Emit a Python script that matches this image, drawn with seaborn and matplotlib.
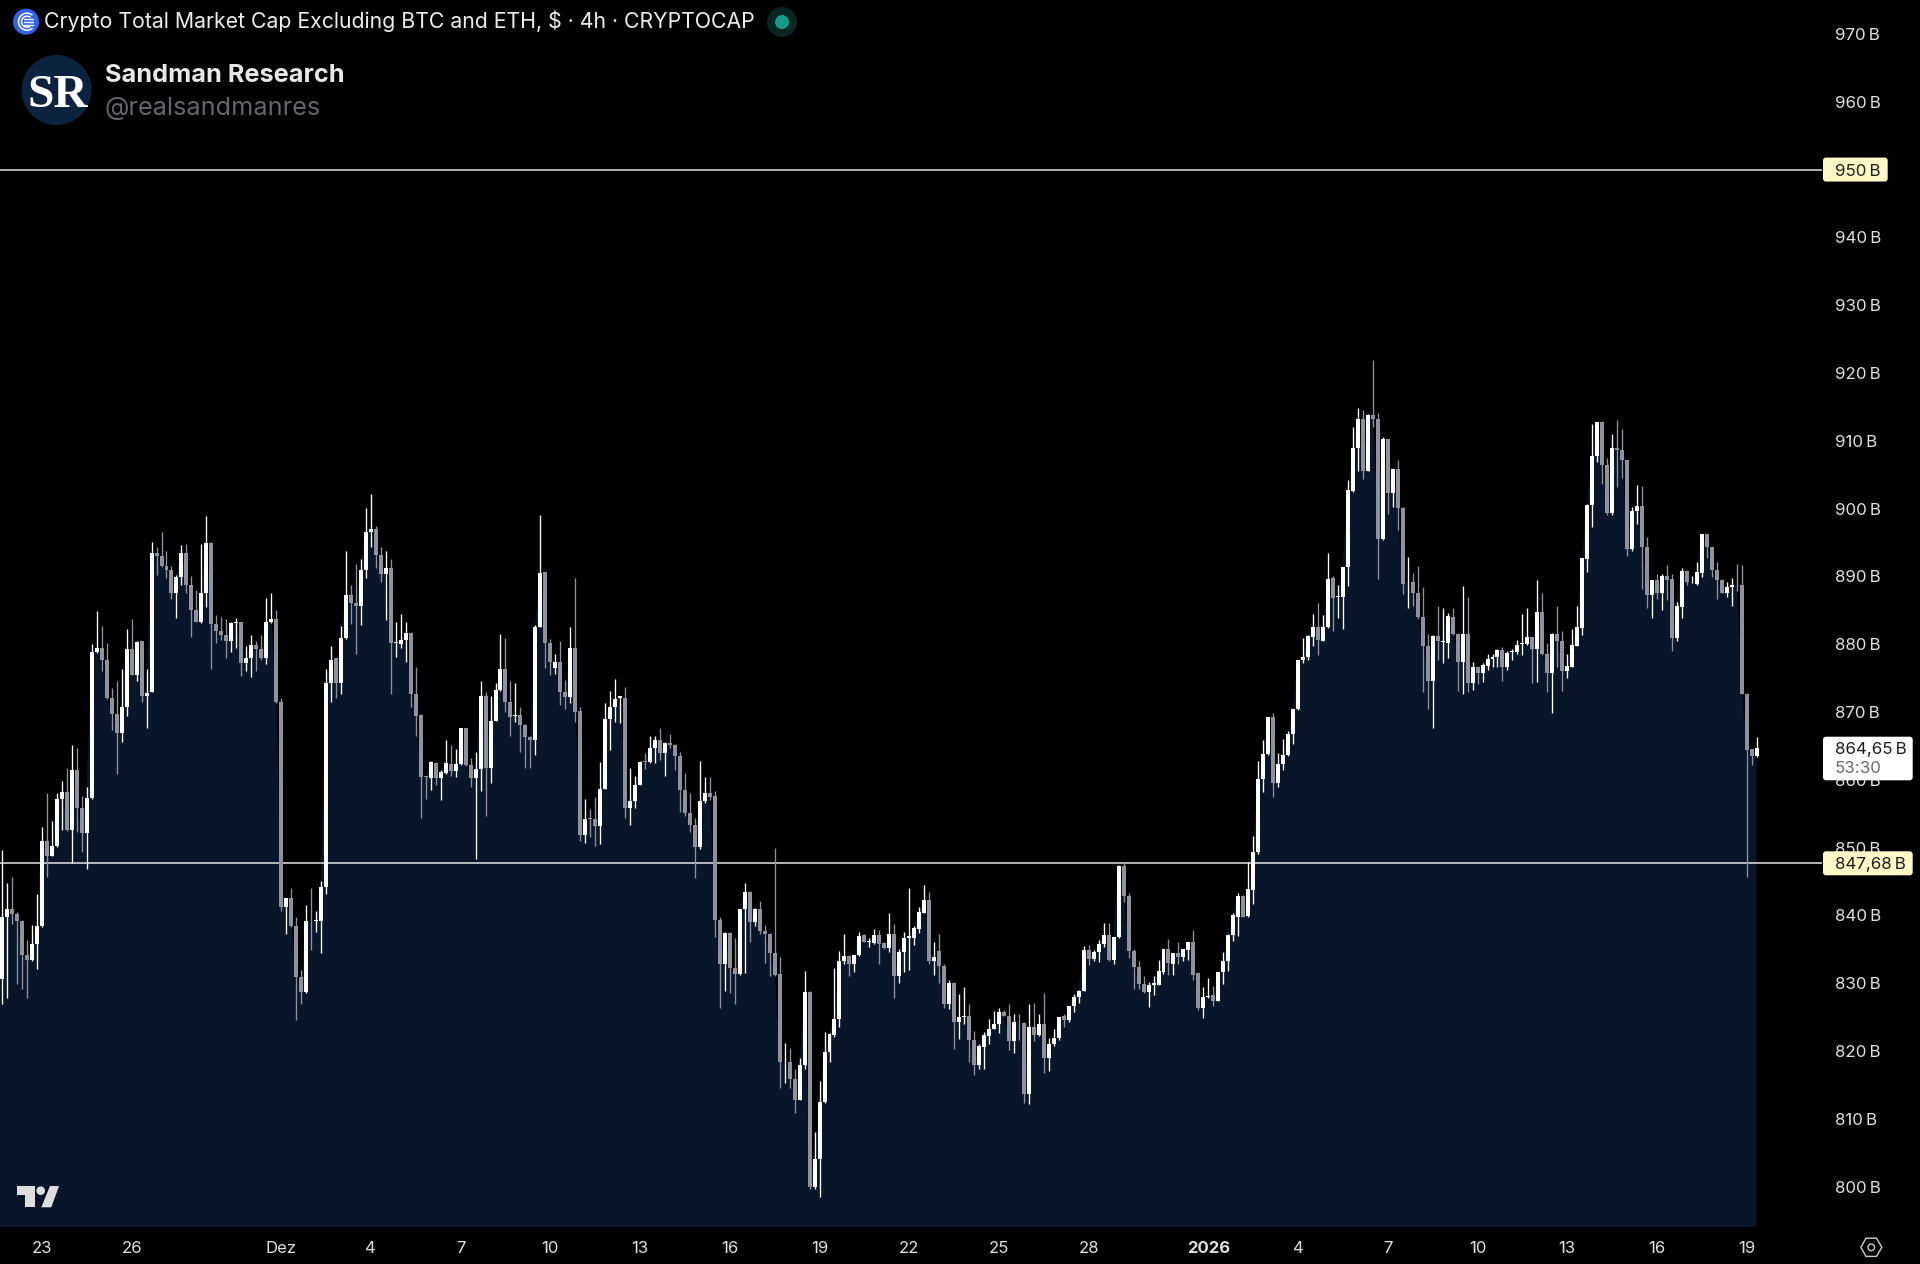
import numpy as np
import pandas as pd
import matplotlib
matplotlib.use("Agg")
import matplotlib.pyplot as plt
import seaborn as sns
from matplotlib.patches import Arc, Circle, FancyBboxPatch, Polygon, RegularPolygon

# 4h candles, in billions of dollars
first_candle = "2025-11-21 16:00"

opens = [
    830.6,839.8,841.0,840.2,839.2,834.2,833.4,835.8,838.4,851.0,
    848.8,850.2,857.2,858.2,852.6,861.5,855.8,852.2,857.3,878.8,
    879.5,877.7,872.0,869.7,866.9,870.8,879.3,875.5,880.4,872.3,
    873.0,893.5,893.0,891.5,891.0,887.5,889.9,893.4,888.8,885.0,
    883.2,887.6,894.9,883.0,881.9,881.4,880.5,883.1,883.2,877.2,
    878.0,879.9,879.3,878.0,883.2,883.7,871.4,841.2,842.5,838.4,
    830.9,828.7,839.2,839.1,839.1,844.2,874.3,877.9,874.3,880.9,
    887.2,886.1,885.7,890.9,896.6,897.0,893.1,890.4,891.3,880.2,
    880.0,880.6,881.7,872.6,869.6,860.5,860.2,862.5,860.3,861.0,
    862.3,861.3,862.3,867.6,862.2,860.3,861.6,872.4,861.8,868.7,
    873.2,876.4,871.5,869.4,869.5,868.1,866.3,865.8,882.6,890.6,
    880.2,876.5,877.3,872.9,872.2,879.4,870.1,851.9,854.3,854.2,
    853.2,858.7,868.9,870.8,872.1,872.1,855.9,856.8,859.3,862.8,
    862.6,864.7,865.9,863.9,865.4,865.2,863.5,858.5,855.1,853.3,
    850.1,856.9,858.0,857.6,839.3,832.8,837.4,832.3,831.3,840.9,
    843.5,839.0,841.0,837.7,837.3,834.4,831.4,818.3,818.3,815.9,
    812.8,818.0,828.7,800.0,804.1,812.4,819.8,822.4,824.7,833.3,
    834.0,832.8,834.1,837.1,836.1,835.9,837.1,835.9,835.2,837.2,
    831.0,834.6,836.7,836.7,838.0,840.4,842.3,833.2,834.8,832.5,
    826.9,830.0,824.2,825.0,825.1,821.6,818.0,820.6,822.2,823.3,
    824.0,825.8,825.2,821.4,824.3,824.1,813.7,823.5,822.3,824.0,
    818.9,821.0,821.9,825.1,824.5,826.6,828.0,828.9,834.9,833.6,
    834.6,835.8,837.1,833.4,836.8,847.3,842.9,834.7,832.4,829.9,
    828.7,829.8,829.8,831.6,835.0,832.9,834.4,833.8,834.9,836.1,
    831.5,826.4,828.0,828.3,827.4,831.7,833.2,837.1,839.8,842.9,
    839.9,843.8,849.3,860.1,863.8,869.2,859.5,862.3,863.6,866.7,
    870.4,877.6,878.1,881.1,882.6,880.5,882.5,889.7,887.0,887.0,
    891.4,902.6,908.9,913.2,905.6,913.8,913.2,895.5,910.2,902.3,
    905.9,900.1,889.1,889.1,887.6,884.0,879.7,874.5,881.2,880.3,
    880.2,884.0,881.5,877.3,881.5,874.3,876.7,875.8,876.8,877.8,
    878.1,879.2,876.7,878.8,878.9,880.0,880.0,881.0,879.3,884.7,
    878.5,875.8,881.5,880.4,876.1,876.7,879.8,882.4,892.6,900.5,
    907.7,912.7,906.4,899.4,909.0,908.7,907.1,894.0,899.7,900.4,
    894.4,887.3,889.5,887.5,890.1,889.6,880.9,885.5,890.8,889.1,
    888.9,890.5,896.2,894.3,890.9,889.5,887.6,888.4,888.8,888.7,
    872.7,864.5,863.5,
]

highs = [
    849.6,844.7,845.6,840.5,839.3,836.4,838.6,843.1,853.1,858.0,
    853.9,858.1,859.8,861.7,865.2,864.7,857.6,858.9,880.0,884.9,
    882.7,880.2,873.5,874.5,876.4,882.3,883.7,880.4,880.5,876.4,
    895.0,894.4,896.5,893.8,891.6,890.2,894.6,894.8,890.1,888.0,
    894.8,898.9,895.0,884.3,884.0,883.7,883.2,883.9,883.3,879.7,
    881.4,880.5,881.3,886.8,887.6,885.1,872.1,842.5,844.0,839.7,
    831.9,841.5,844.1,840.7,845.1,876.4,879.8,878.0,882.7,893.7,
    888.8,891.8,892.5,900.1,902.2,897.4,894.4,893.8,892.6,883.2,
    884.4,883.2,881.8,876.6,869.7,860.6,862.8,862.6,861.4,865.9,
    865.2,864.6,867.7,867.7,863.2,864.1,874.5,872.9,872.3,874.3,
    881.5,880.9,874.5,874.2,870.8,868.2,866.4,882.9,899.0,890.7,
    880.7,878.5,880.5,874.7,882.6,889.7,870.8,857.2,855.7,857.4,
    862.6,871.3,873.1,874.8,872.3,873.7,861.8,860.6,862.7,863.9,
    866.5,866.4,867.6,865.5,866.7,865.3,864.1,861.0,858.0,854.4,
    862.7,860.4,860.4,858.3,839.8,837.5,837.5,836.6,840.9,844.7,
    843.6,841.1,842.1,838.6,837.4,850.0,833.8,821.2,820.5,817.4,
    818.9,831.8,828.8,808.0,815.6,822.8,822.6,832.2,834.8,837.2,
    834.1,834.2,837.5,837.2,836.6,838.0,837.8,836.1,840.4,838.7,
    835.0,837.5,844.0,838.4,841.2,844.5,843.5,836.1,837.3,832.8,
    830.5,830.1,828.4,829.4,827.0,823.0,821.1,822.8,824.7,825.9,
    826.4,826.0,827.0,825.5,825.5,824.2,827.0,827.1,825.5,828.6,
    821.9,823.3,825.0,825.5,826.7,828.4,829.0,835.5,835.6,834.9,
    836.3,838.8,838.8,836.8,847.4,847.8,843.3,835.0,833.3,831.1,
    830.2,831.0,833.4,835.0,836.5,834.5,836.0,835.1,836.1,837.9,
    831.6,829.4,830.7,829.6,831.7,834.6,837.2,840.3,843.3,843.0,
    847.9,851.7,862.8,865.8,869.2,869.9,863.9,866.0,867.2,870.5,
    877.7,880.9,881.4,884.5,886.0,884.3,893.4,890.0,888.8,891.4,
    904.2,912.0,914.9,914.6,913.9,921.9,914.1,910.6,910.3,905.9,
    907.2,900.2,892.9,890.5,891.5,888.5,881.5,881.3,885.6,885.3,
    884.6,885.4,881.6,888.6,887.0,877.4,876.8,877.2,878.5,878.6,
    879.3,879.6,879.0,879.3,880.6,884.5,885.3,881.1,889.5,887.6,
    880.1,881.6,885.7,881.9,878.6,882.3,885.7,892.7,900.6,912.5,
    912.7,912.9,907.5,911.0,913.1,911.8,907.2,900.2,903.5,903.3,
    895.8,889.5,890.4,890.4,891.7,890.3,886.2,891.2,890.9,890.0,
    892.1,896.2,896.3,894.4,892.1,889.6,889.2,889.7,891.8,891.7,
    872.8,864.6,866.3,
]

lows = [
    826.9,827.8,838.7,829.9,829.1,827.8,833.3,832.1,838.3,845.7,
    848.7,850.1,852.6,852.5,847.7,852.3,849.3,846.9,857.2,878.7,
    876.1,871.9,867.4,860.9,865.5,869.4,875.4,874.6,871.5,867.6,
    872.9,890.2,891.4,889.7,886.6,883.8,888.7,887.6,881.0,883.2,
    883.1,885.5,876.4,880.1,880.6,877.9,878.8,879.5,875.3,876.1,
    875.2,876.0,877.6,877.1,883.1,871.3,840.6,837.2,838.3,824.5,
    826.9,828.6,834.9,837.6,834.5,843.2,871.5,872.0,872.6,880.8,
    883.0,878.5,882.9,889.7,894.4,891.3,889.1,883.6,872.7,878.1,
    879.5,877.4,870.8,866.5,854.4,857.2,858.5,859.3,857.0,860.9,
    860.6,860.4,862.2,862.1,858.9,848.3,858.3,854.7,859.5,868.6,
    873.1,870.0,866.5,868.5,864.1,861.7,861.8,863.7,882.5,876.5,
    875.5,875.6,871.1,870.5,871.3,868.5,851.0,850.7,851.6,850.2,
    850.5,858.6,864.4,868.5,868.3,854.4,853.4,855.8,859.2,861.6,
    862.5,862.4,862.9,860.5,864.7,861.4,855.3,854.6,852.3,845.5,
    849.8,856.5,857.0,836.8,826.4,828.9,828.6,826.9,831.2,831.5,
    836.0,838.4,837.2,833.0,831.0,831.1,814.5,815.3,814.6,810.8,
    812.7,817.3,799.6,799.6,798.4,812.3,818.4,822.0,823.5,832.9,
    831.0,831.6,834.0,836.0,835.3,835.8,832.9,835.0,834.6,827.8,
    830.0,831.7,832.0,835.7,837.4,840.3,832.9,831.2,830.0,826.3,
    826.2,820.3,821.8,824.0,818.4,816.5,817.4,817.3,821.1,823.2,
    822.6,825.1,820.2,819.7,821.6,812.3,812.2,821.4,822.2,816.8,
    817.0,820.7,821.6,823.5,824.3,825.7,827.1,828.8,832.7,833.2,
    833.1,835.3,833.2,832.8,836.7,842.0,833.7,829.2,829.1,828.6,
    826.5,828.2,829.7,831.3,831.2,831.2,832.8,833.3,833.4,830.4,
    826.1,824.8,827.8,826.7,827.3,829.9,831.8,836.2,837.0,839.7,
    839.8,841.7,849.0,858.2,863.7,857.4,858.9,861.5,863.5,865.3,
    870.3,877.2,877.7,879.8,878.4,880.4,882.4,881.9,883.9,882.2,
    888.6,902.5,905.5,904.3,905.5,912.0,889.6,895.4,899.2,900.2,
    896.8,887.4,885.3,885.6,883.7,872.9,870.4,867.6,877.6,877.2,
    878.0,881.4,873.1,872.6,873.0,873.2,874.1,874.4,876.2,876.7,
    876.7,874.6,876.2,877.6,878.5,878.4,879.9,874.2,874.4,878.4,
    873.0,869.9,876.7,873.1,875.0,876.6,879.7,881.4,890.6,897.3,
    906.8,903.6,899.0,899.0,903.2,904.5,893.0,893.8,897.7,888.2,
    885.4,883.8,886.7,885.1,886.5,879.0,880.4,883.8,888.8,889.0,
    888.8,889.9,892.7,889.9,886.6,887.5,887.0,885.7,887.9,872.6,
    845.6,862.2,863.4,
]

closes = [
    839.8,841.0,840.2,839.2,834.2,833.4,835.8,838.4,851.0,848.8,
    850.2,857.2,858.2,852.6,861.5,855.8,852.2,857.3,878.8,879.5,
    877.7,872.0,869.7,866.9,870.8,879.3,875.5,880.3,872.3,872.8,
    893.5,893.0,891.5,891.0,887.5,889.9,893.4,888.8,885.0,883.2,
    887.6,894.9,883.0,881.9,881.4,880.5,883.1,883.3,877.2,878.0,
    879.9,879.3,878.0,883.2,883.7,871.4,841.2,842.5,838.4,830.9,
    828.7,839.1,839.1,839.3,844.2,874.3,877.7,874.3,880.9,887.2,
    886.1,885.7,890.9,896.6,897.0,893.1,890.4,891.3,880.2,880.3,
    880.6,881.7,872.6,869.4,860.4,860.4,862.6,860.2,861.2,862.4,
    861.3,862.3,867.6,862.2,860.3,861.6,872.4,861.8,868.7,873.3,
    876.4,871.5,869.3,869.6,868.1,866.3,865.8,882.5,890.5,880.2,
    877.3,877.3,873.0,872.2,879.4,870.0,851.9,854.2,854.2,853.2,
    858.7,868.9,870.8,871.9,872.3,855.9,856.8,859.3,862.6,862.6,
    864.7,865.9,863.9,865.4,865.2,863.5,858.5,855.1,853.3,850.1,
    856.9,858.0,857.5,839.3,832.8,837.4,832.3,831.3,840.9,843.5,
    839.0,841.0,837.7,837.3,834.4,831.2,818.3,818.4,815.9,812.8,
    818.0,828.7,800.0,804.1,812.4,819.8,822.5,824.7,833.3,834.0,
    832.8,834.1,837.0,836.1,836.2,837.1,835.8,835.2,837.2,831.0,
    834.6,836.7,836.9,838.1,840.5,842.3,833.2,833.8,832.5,826.9,
    830.0,824.2,825.0,825.1,821.6,818.0,820.7,822.3,823.3,824.0,
    825.8,825.2,821.4,824.2,824.2,813.7,823.5,822.3,824.0,818.9,
    821.0,821.9,825.0,824.5,826.6,828.0,828.9,834.9,833.6,834.6,
    835.8,837.1,833.4,836.8,847.3,842.9,834.7,832.4,829.9,828.7,
    829.8,830.0,831.8,835.0,833.0,834.4,833.8,835.0,836.1,831.2,
    826.4,828.0,828.1,827.4,831.7,833.2,837.1,840.0,842.9,839.8,
    843.85,849.4,860.1,863.8,869.2,859.5,862.3,863.6,866.8,870.4,
    877.6,878.1,881.2,882.6,880.6,882.6,889.6,886.8,887.1,891.4,
    902.8,908.9,913.2,905.6,913.8,913.2,895.5,910.2,902.3,905.9,
    900.1,888.9,889.2,887.6,884.0,879.7,874.5,881.2,880.5,880.5,
    884.1,881.5,877.3,881.5,874.3,876.7,875.8,876.9,877.8,878.1,
    879.2,876.7,878.7,879.0,879.9,880.2,881.0,879.3,884.7,878.5,
    875.8,881.5,880.4,876.1,876.8,879.9,882.5,892.7,900.5,907.8,
    912.7,906.4,899.4,909.0,908.7,907.1,894.1,899.7,900.4,894.4,
    887.3,889.5,887.5,890.1,889.5,880.9,885.7,890.8,889.1,889.2,
    890.6,896.2,894.3,890.9,889.4,887.6,888.4,888.7,888.7,872.7,
    864.4,863.5,864.65,
]

level_high = 950
level_low = 847.68
countdown = "53:30"

price_ticks = [800, 810, 820, 830, 840, 850, 860, 870, 880, 890, 900, 910, 920, 930, 940, 950, 960, 970]
date_ticks = ["2025-11-23", "2025-11-26", "2025-12-01", "2025-12-04", "2025-12-07", "2025-12-10",
              "2025-12-13", "2025-12-16", "2025-12-19", "2025-12-22", "2025-12-25", "2025-12-28",
              "2026-01-01", "2026-01-04", "2026-01-07", "2026-01-10", "2026-01-13", "2026-01-16", "2026-01-19"]
date_labels = ["23", "26", "Dez", "4", "7", "10", "13", "16", "19", "22", "25", "28",
               "2026", "4", "7", "10", "13", "16", "19"]

BG = "#000000"
AREA = "#091529"
UP = "#FFFFFF"
DOWN = "#8F929C"
LEVEL = "#E4E4E4"
TAG = "#FFF8C6"
LABEL = "#E0E0E0"
FONT = ["Inter", "DejaVu Sans"]
THIN = "\u2009"

sns.set_theme(style="dark", rc={"axes.facecolor": BG, "figure.facecolor": BG, "axes.grid": False})
plt.rcParams["font.family"] = FONT

df = pd.DataFrame({"open": opens, "high": highs, "low": lows, "close": closes})
df["x"] = np.arange(len(df))
df["bottom"] = df[["open", "close"]].min(axis=1)
df["height"] = (df["close"] - df["open"]).abs()
df["color"] = np.where(df["close"] >= df["open"], UP, DOWN)

W, H = 1920, 1264
fig = plt.figure(figsize=(W / 100, H / 100), dpi=100)
ax = fig.add_axes([0, (H - 1226.7) / H, 1826 / W, 1226.7 / H])

# area under the closes, then levels, then the candles on top
fill_x = np.r_[-0.4, df["x"]]
fill_y = np.r_[df["close"].iloc[0], df["close"]]
ax.fill_between(fill_x, fill_y, 700, color=AREA, lw=0, zorder=1)
sns.lineplot(data=df, x="x", y="close", color=AREA, lw=0.5, ax=ax, zorder=1)
ax.hlines([level_high, level_low], -0.4, 365, color=LEVEL, lw=1.1, zorder=2)
ax.vlines(df["x"], df["low"], df["high"], color=df["color"], lw=0.95, zorder=3)
ax.bar(df["x"], df["height"], bottom=df["bottom"], width=0.8, color=df["color"], lw=0, zorder=4)

ax.set_xlim(-0.4, 365.9)
ax.set_ylim(794.08, 975.01)
ax.set_xlabel("")
ax.set_ylabel("")
for s in ax.spines.values():
    s.set_visible(False)

start = pd.Timestamp(first_candle)
ax.set_xticks((pd.to_datetime(date_ticks) - start) / pd.Timedelta(hours=4))
ax.set_xticklabels(date_labels, fontsize=12, color=LABEL)
ax.yaxis.tick_right()
ax.set_yticks(price_ticks)
ax.set_yticklabels([f"{p}{THIN}B" for p in price_ticks], fontsize=12.2, color=LABEL, va="center_baseline")
ax.tick_params(axis="x", length=0, pad=10)
ax.tick_params(axis="y", length=0, pad=6.3)
for t in ax.get_xticklabels():
    if t.get_text() == "2026":
        t.set_fontweight("bold")

# overlay in pixel coordinates for the tags and the logos
ov = fig.add_axes([0, 0, 1, 1], zorder=5)
ov.set_xlim(0, W)
ov.set_ylim(H, 0)
ov.axis("off")
ov.patch.set_visible(False)


def y_px(v):
    return 1226.7 - (v - 794.08) / (975.01 - 794.08) * 1226.7


def tag(y_mid, x1, h, color):
    ov.add_patch(FancyBboxPatch((1826, y_mid - h / 2 + 3), x1 - 1829, h - 6,
                                boxstyle="round,pad=3,rounding_size=3", fc=color, ec="none"))


def price_text(v):
    return f"{v:.2f}".replace(".", ",")


tag(y_px(level_high), 1887.7, 24, TAG)
ov.text(1834.7, y_px(level_high), f"{level_high}{THIN}B", fontsize=12.2, color="#1C1C1C", va="center_baseline")
tag(y_px(level_low), 1912.7, 24, TAG)
ov.text(1834.7, y_px(level_low), f"{price_text(level_low)}{THIN}B", fontsize=12.2, color="#1C1C1C", va="center_baseline")
tag(758.5, 1912.7, 43.6, "#FFFFFF")
ov.text(1834.7, 747.7, f"{price_text(closes[-1])}{THIN}B", fontsize=12.2, color="#1C1C1C", va="center_baseline")
ov.text(1834.7, 767, countdown, fontsize=12.2, color="#6A6A6A", va="center_baseline")

# header
ov.add_patch(Circle((26, 21.7), 13, fc="#2F63E8", ec="none"))
for r in (8.5, 5.5):
    ov.add_patch(Arc((27, 21.7), 2 * r, 2 * r, theta1=50, theta2=310, ec="white", lw=1.1))
for dy in (-3, 0, 3):
    ov.plot([24, 33], [21.7 + dy, 21.7 + dy], color="white", lw=1.0)
ov.text(44.5, 21.5, "Crypto Total Market Cap Excluding BTC and ETH, $ · 4h · CRYPTOCAP",
        fontsize=15.3, color="#EDEDED", va="center")
ov.add_patch(Circle((782, 22), 15, fc="#0A2622", ec="none"))
ov.add_patch(Circle((782, 22), 7, fc="#149C86", ec="none"))

ov.add_patch(Circle((56.5, 90), 35, fc="#0C2340", ec="none"))
ov.text(57.5, 107, "SR", fontsize=34, family="Liberation Serif", weight="bold", color="white", ha="center", va="baseline")
ov.text(105, 75, "Sandman Research", fontsize=18.2, weight="bold", color="#E8E8E8", va="center")
ov.text(105, 109, "@realsandmanres", fontsize=18.2, color="#63666C", va="center")

# TradingView mark and the settings hexagon
LOGO = "#DEDEDE"
ov.add_patch(Polygon([(16.7, 1186), (35, 1186), (35, 1207.3), (25, 1207.3), (25, 1195), (16.7, 1195)], fc=LOGO, ec="none"))
ov.add_patch(Circle((40.7, 1190.7), 4.3, fc=LOGO, ec="none"))
ov.add_patch(Polygon([(50, 1186), (59, 1186), (51.3, 1207.3), (41.3, 1207.3)], fc=LOGO, ec="none"))
ov.add_patch(RegularPolygon((1871.3, 1247.3), 6, radius=10.5, orientation=np.pi / 6, fc="none", ec="#CFCFCF", lw=1))
ov.add_patch(Circle((1871.3, 1247.3), 3.3, fc="none", ec="#CFCFCF", lw=1))

fig.savefig("out.png", dpi=100, facecolor=BG)
